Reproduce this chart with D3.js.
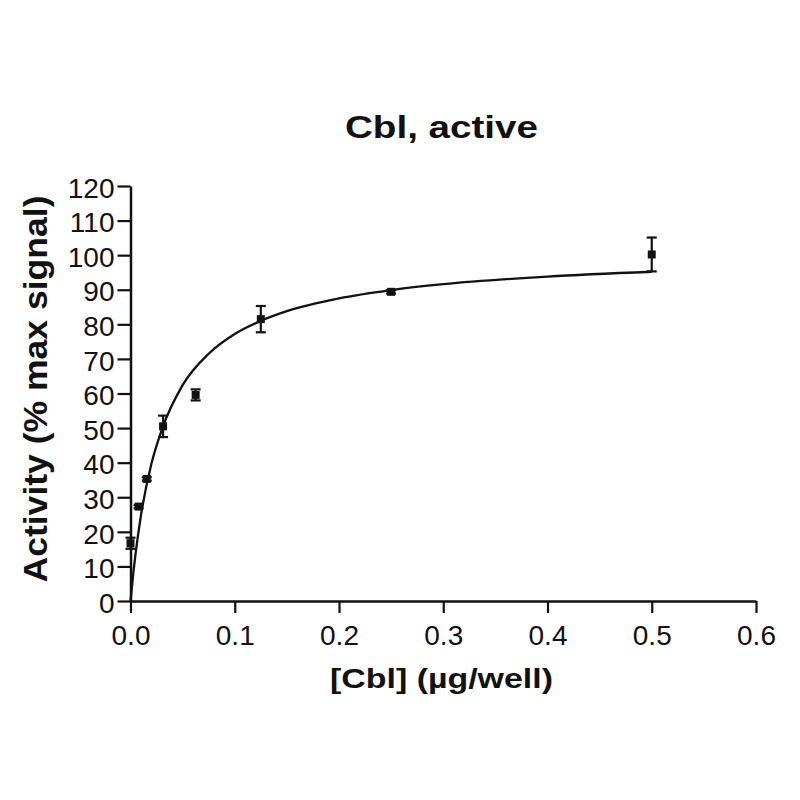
<!DOCTYPE html>
<html>
<head>
<meta charset="utf-8">
<script src="https://cdn.jsdelivr.net/npm/d3@7"></script>
<style>
  html, body { margin: 0; padding: 0; background: #fff; }
  svg { display: block; }
  text { font-family: "Liberation Sans", Arial, sans-serif; fill: #111; }
</style>
</head>
<body>
<svg id="chart" width="800" height="800"></svg>
<script>
// ---- data ----
const concentrations = [0, 0.0078, 0.0156, 0.03125, 0.0625, 0.125, 0.25, 0.5];
const activityMean   = [16.7, 27.3, 35.3, 50.5, 59.6, 81.5, 89.4, 100.2];
const activityErr    = [1.6, 0.5, 0.5, 3.1, 1.6, 3.8, 0.5, 4.9];

// fitted saturation curve
const fitX = [0, 0.003, 0.005, 0.01, 0.02, 0.03, 0.05, 0.075, 0.1, 0.125, 0.15, 0.2, 0.25, 0.3, 0.4, 0.5];
const fitY = [0, 8.9, 14.0, 24.7, 39.6, 49.5, 62.4, 71.5, 77.2, 81.0, 83.8, 87.5, 89.9, 91.6, 93.8, 95.2];

const xTicks = [0, 0.1, 0.2, 0.3, 0.4, 0.5, 0.6];
const yTicks = [0, 10, 20, 30, 40, 50, 60, 70, 80, 90, 100, 110, 120];

const titleText = "Cbl, active";
const xTitleText = "[Cbl] (\u00B5g/well)";
const yTitleText = "Activity (% max signal)";

// ---- layout ----
const svg = d3.select("#chart");
const plotLeft = 130.5, plotRight = 756, plotTop = 186, plotBottom = 601;

const x = d3.scaleLinear().domain([0, 0.6]).range([plotLeft, plotRight]);
const y = d3.scaleLinear().domain([0, 120]).range([plotBottom, plotTop]);

// axes
const yAxis = d3.axisLeft(y).tickValues(yTicks).tickFormat(d3.format("d"))
  .tickSize(13).tickSizeOuter(0).tickPadding(3);
const xAxis = d3.axisBottom(x).tickValues(xTicks).tickFormat(d3.format(".1f"))
  .tickSize(12).tickSizeOuter(0).tickPadding(12);

const gy = svg.append("g").attr("transform", `translate(${plotLeft},0)`).call(yAxis);
const gx = svg.append("g").attr("transform", `translate(0,${plotBottom})`).call(xAxis);

[gx, gy].forEach(g => {
  g.select(".domain").attr("stroke", "#111").attr("stroke-width", 2.5);
  g.selectAll(".tick line").attr("stroke", "#111").attr("stroke-width", 2.2);
  g.selectAll(".tick text")
    .attr("fill", "#1a1a1a")
    .style("font-family", '"Liberation Sans", Arial, sans-serif')
    .style("font-size", "28px");
});
gy.selectAll(".tick text").attr("dy", "0.40em");
gx.selectAll(".tick text").attr("dy", "0.71em");

// fit curve
const line = d3.line().x((d, i) => x(fitX[i])).y(d => y(d)).curve(d3.curveMonotoneX);
svg.append("path")
  .attr("d", line(fitY))
  .attr("fill", "none")
  .attr("stroke", "#111")
  .attr("stroke-width", 2.3);

// error bars
const pts = concentrations.map((c, i) => ({ c, m: activityMean[i], e: activityErr[i] }));
const capW = 5;
const eb = svg.append("g").attr("stroke", "#111").attr("stroke-width", 2.2);
pts.forEach(p => {
  const cx = x(p.c), y1 = y(p.m + p.e), y2 = y(p.m - p.e);
  eb.append("line").attr("x1", cx).attr("x2", cx).attr("y1", y1).attr("y2", y2);
  eb.append("line").attr("x1", cx - capW).attr("x2", cx + capW).attr("y1", y1).attr("y2", y1);
  eb.append("line").attr("x1", cx - capW).attr("x2", cx + capW).attr("y1", y2).attr("y2", y2);
});

// points (squares)
const sq = 8;
svg.append("g").selectAll("rect").data(pts).join("rect")
  .attr("x", d => x(d.c) - sq / 2)
  .attr("y", d => y(d.m) - sq / 2)
  .attr("width", sq).attr("height", sq)
  .attr("fill", "#111");

// titles
svg.append("text")
  .attr("x", 441.5).attr("y", 138)
  .attr("text-anchor", "middle")
  .attr("textLength", 193).attr("lengthAdjust", "spacingAndGlyphs")
  .style("font-size", "32px").style("font-weight", "bold")
  .text(titleText);

svg.append("text")
  .attr("x", 441.5).attr("y", 688)
  .attr("text-anchor", "middle")
  .attr("textLength", 223).attr("lengthAdjust", "spacingAndGlyphs")
  .style("font-size", "28px").style("font-weight", "bold")
  .text(xTitleText);

svg.append("text")
  .attr("transform", "translate(47,389) rotate(-90)")
  .attr("text-anchor", "middle")
  .attr("textLength", 387).attr("lengthAdjust", "spacingAndGlyphs")
  .style("font-size", "34px").style("font-weight", "bold")
  .text(yTitleText);
</script>
</body>
</html>
